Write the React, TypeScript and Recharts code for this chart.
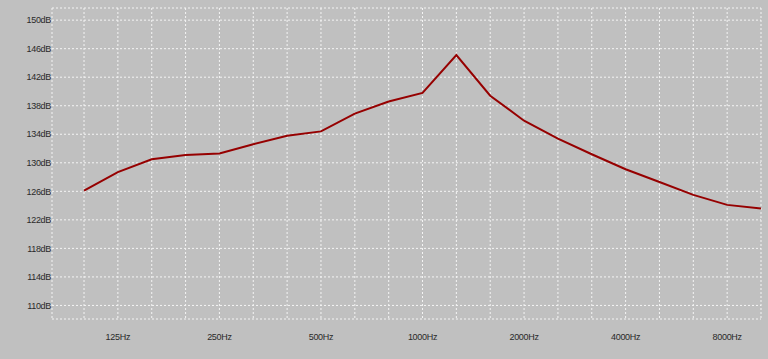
import React from 'react';
import { LineChart, Line, XAxis, YAxis, CartesianGrid } from 'recharts';

// 1/3 octave bands
const bands = [100, 125, 160, 200, 250, 315, 400, 500, 630, 800, 1000, 1250, 1600, 2000, 2500, 3150, 4000, 5000, 6300, 8000, 10000];
const levels = [126.1, 128.7, 130.5, 131.1, 131.3, 132.6, 133.8, 134.4, 136.9, 138.6, 139.8, 145.1, 139.4, 135.9, 133.4, 131.2, 129.1, 127.3, 125.5, 124.1, 123.6];
const labeledBands = [125, 250, 500, 1000, 2000, 4000, 8000];
const dbTicks = [110, 114, 118, 122, 126, 130, 134, 138, 142, 146, 150];

const data = bands.map((f, i) => ({ idx: i, freq: f, level: levels[i] }));
const idxTicks = bands.map((_, i) => i);

const tickStyle = { fontFamily: '"Liberation Sans", Arial, sans-serif', fontSize: 9, fill: '#2a2a2a', letterSpacing: -0.3 };

const App: React.FC = () => {
  return (
    <div style={{ position: 'absolute', left: 0, top: 0, width: 768, height: 359, background: '#c0c0c0' }}>
      <LineChart width={768} height={359} data={data} margin={{ top: 8, right: 7, bottom: 10, left: 0 }}>
        <CartesianGrid stroke="#f4f4f4" strokeDasharray="2 2" />
        <XAxis
          type="number"
          dataKey="idx"
          domain={[-0.946, 20]}
          ticks={idxTicks}
          interval={0}
          height={30}
          axisLine={false}
          tickLine={false}
          tickSize={0}
          tickMargin={15}
          tick={tickStyle}
          tickFormatter={(v: number) => (labeledBands.includes(bands[v]) ? `${bands[v]}Hz` : '')}
        />
        <YAxis
          type="number"
          domain={[108.1, 151.7]}
          ticks={dbTicks}
          interval={0}
          width={52}
          axisLine={false}
          tickLine={false}
          tickSize={0}
          tickMargin={1}
          tick={tickStyle}
          tickFormatter={(v: number) => `${v}dB`}
        />
        <Line type="linear" dataKey="level" stroke="#960000" strokeWidth={2} dot={false} isAnimationActive={false} />
      </LineChart>
    </div>
  );
};

export default App;
